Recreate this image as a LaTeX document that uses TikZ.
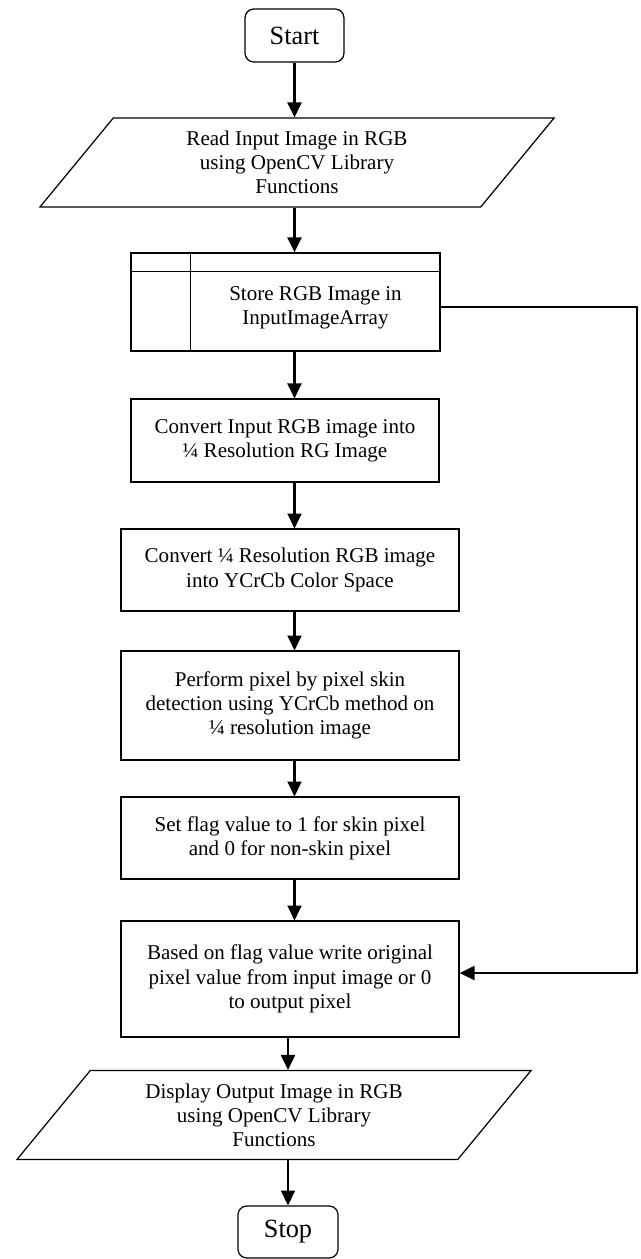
\documentclass[tikz,border=0pt]{standalone}
\usepackage{fontspec}
\setmainfont{Liberation Serif}
\usetikzlibrary{shapes.geometric, positioning}
\usetikzlibrary{arrows.meta}
\tikzset{txt/.style={inner sep=0pt, align=center, font=\fontsize{12pt}{13.8pt}\selectfont},
	base/.style={txt, draw, line width=0.7pt},
	term/.style={base, rounded corners=5pt, minimum width=56.4pt, minimum height=30.2pt,
			font=\fontsize{15pt}{17pt}\selectfont},
	io/.style={base, trapezium, trapezium left angle=40.8, trapezium right angle=139.2,
			trapezium stretches body, minimum width=293pt, minimum height=50.7pt},
	proc/.style={base, minimum width=192.7pt, minimum height=#1},
	proc/.default=46.7pt,
	arr/.style={line width=1.2pt, -{Triangle[length=8.5pt,width=8pt]}}}

\begin{document}
\begin{tikzpicture}[x=0.57pt, y=-0.57pt]
		\useasboundingbox (0,0) rectangle (641,1259);
		\node[term] (start) at (294.5,35.5) {Start};
		\node[io] (read) at (297,162.5) {Read Input Image in RGB\\using OpenCV Library\\Functions};
		% stored data box with its two inner rules
		\node[base, minimum width=176.1pt, minimum height=55.9pt] (store) at (285.5,302) {};
		\draw[line width=0.7pt] ([yshift=-10.8pt]store.north west) -- ([yshift=-10.8pt]store.north east);
		\draw[line width=0.7pt] ([xshift=34.2pt]store.north west) -- ([xshift=34.2pt]store.south west);
		\node[txt] (storetxt) at (315.5,307.5) {Store RGB Image in\\InputImageArray};
		\node[proc=47.3pt, minimum width=175.6pt] (quarter) at (285,440.5) {Convert Input RGB image into\\¼ Resolution RG Image};
		\node[proc] (ycrcb) at (290,570) {Convert ¼ Resolution RGB image\\into YCrCb Color Space};
		\node[proc=62.1pt] (skin) at (290,705.5) {Perform pixel by pixel skin\\detection using YCrCb method on\\¼ resolution image};
		\node[proc] (flag) at (290,838) {Set flag value to 1 for skin pixel\\and 0 for non-skin pixel};
		\node[proc=66.1pt] (merge) at (290,979) {Based on flag value write original\\pixel value from input image or 0\\to output pixel};
		\node[io] (show) at (274,1115) {Display Output Image in RGB\\using OpenCV Library\\Functions};
		\node[term, minimum width=57pt, minimum height=29.6pt] (stop) at (288,1232) {Stop};
		\coordinate (rail) at (637,302);

		\draw[arr] (start) -- (start |- read.north);
		\draw[arr] (read.south -| start) -- (store.north -| start);
		\draw[arr] (store.south -| start) -- (quarter.north -| start);
		\draw[arr] (quarter.south -| start) -- (ycrcb.north -| start);
		\draw[arr] (ycrcb.south -| start) -- (skin.north -| start);
		\draw[arr] (skin.south -| start) -- (flag.north -| start);
		\draw[arr] (flag.south -| start) -- (merge.north -| start);
		\draw[arr] (merge.south -| stop) -- (show.north -| stop);
		\draw[arr] (show.south -| stop) -- (stop);
		\draw[arr] ([yshift=-2.9pt]store.east) -- ([yshift=-2.9pt]store.east -| rail) |- ([yshift=3.4pt]merge.east);
	\end{tikzpicture}
\end{document}
